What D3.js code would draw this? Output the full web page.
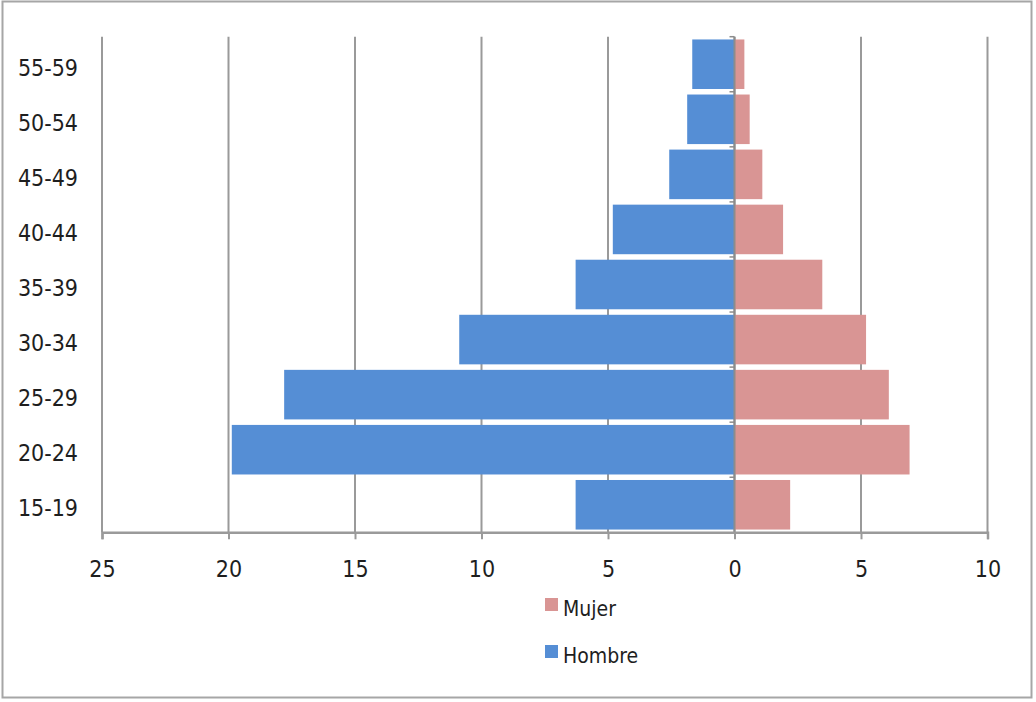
<!DOCTYPE html>
<html>
<head>
<meta charset="utf-8">
<script src="https://cdn.jsdelivr.net/npm/d3@7"></script>
<style>
  html, body { margin: 0; padding: 0; background: #fff; }
  svg { display: block; }
  text { font-family: "DejaVu Sans Condensed", "Liberation Sans Narrow", sans-serif; fill: #1e1e1e; }
</style>
</head>
<body>
<svg id="chart" width="1036" height="702"></svg>
<script>
const ageGroups = ["55-59", "50-54", "45-49", "40-44", "35-39", "30-34", "25-29", "20-24", "15-19"];
const hombre = [1.67, 1.87, 2.58, 4.81, 6.28, 10.88, 17.8, 19.87, 6.28];
const mujer  = [0.39, 0.6, 1.1, 1.92, 3.47, 5.2, 6.1, 6.92, 2.2];
const xTicks = [-25, -20, -15, -10, -5, 0, 5, 10];
const seriesNames = ["Mujer", "Hombre"];
const seriesColors = ["#d99594", "#558ed5"];

const svg = d3.select("#chart");
const W = 1036, H = 702;
const FONT = "'DejaVu Sans Condensed', 'Liberation Sans Narrow', sans-serif";

// frame
svg.append("rect").attr("x", 2.5).attr("y", 1.5).attr("width", 1029).attr("height", 696)
  .attr("fill", "#fff").attr("stroke", "#a6a6a6").attr("stroke-width", 2);

const m = { left: 102, right: W - 987.5, top: 36.7, bottom: H - 532.3 };

const x = d3.scaleLinear().domain([-25, 10]).range([m.left, W - m.right]);
const y = d3.scaleBand().domain(ageGroups).range([m.top, H - m.bottom])
  .paddingInner(0.1).paddingOuter(0.05);

const g = svg.append("g");

// gridlines
g.append("g").selectAll("line").data(xTicks).join("line")
  .attr("x1", d => x(d)).attr("x2", d => x(d))
  .attr("y1", m.top).attr("y2", H - m.bottom)
  .attr("stroke", "#9a9a9a").attr("stroke-width", 2);

// bars
const rows = ageGroups.map((a, i) => ({ age: a, h: hombre[i], f: mujer[i] }));
g.append("g").selectAll("rect").data(rows).join("rect")
  .attr("x", d => x(-d.h)).attr("width", d => x(0) - x(-d.h))
  .attr("y", d => y(d.age)).attr("height", y.bandwidth())
  .attr("fill", seriesColors[1]);
g.append("g").selectAll("rect").data(rows).join("rect")
  .attr("x", x(0)).attr("width", d => x(d.f) - x(0))
  .attr("y", d => y(d.age)).attr("height", y.bandwidth())
  .attr("fill", seriesColors[0]);

// zero axis line
g.append("line").attr("x1", x(0)).attr("x2", x(0)).attr("y1", m.top).attr("y2", H - m.bottom)
  .attr("stroke", "#8c8c8c").attr("stroke-width", 2);

// small ticks at band boundaries on the zero axis
const bounds = ageGroups.map(a => y(a) - y.step() * y.paddingInner() / 2);
g.append("g").selectAll("line").data(bounds).join("line")
  .attr("x1", x(0) - 5).attr("x2", x(0)).attr("y1", d => d).attr("y2", d => d)
  .attr("stroke", "#8c8c8c").attr("stroke-width", 1.5);

// x axis
const xAxis = d3.axisBottom(x).tickValues(xTicks).tickSize(7).tickPadding(21)
  .tickFormat(d => Math.abs(d));
const ax = g.append("g").attr("transform", `translate(0,${H - m.bottom})`).call(xAxis);
ax.select(".domain").attr("stroke", "#9a9a9a").attr("stroke-width", 2.5);
ax.selectAll(".tick line").attr("stroke", "#9a9a9a").attr("stroke-width", 2);
ax.selectAll(".tick text").attr("font-size", 23).attr("fill", "#1e1e1e").style("font-family", FONT);

// y labels
const yAxis = d3.axisLeft(y).tickSize(0).tickPadding(0);
const ay = g.append("g").attr("transform", `translate(78,0)`).call(yAxis);
ay.select(".domain").remove();
ay.selectAll(".tick text").attr("font-size", 23).attr("fill", "#1e1e1e").attr("dy", "0.5em")
  .style("font-family", FONT);

// legend
const leg = svg.append("g");
const legY = [605, 652];
seriesNames.forEach((n, i) => {
  leg.append("rect").attr("x", 545).attr("y", legY[i] - 7).attr("width", 13).attr("height", 13)
    .attr("fill", seriesColors[i]);
  leg.append("text").attr("x", 563).attr("y", legY[i]).attr("dy", "0.5em")
    .attr("font-size", 21).style("font-family", FONT).text(n);
});
</script>
</body>
</html>
